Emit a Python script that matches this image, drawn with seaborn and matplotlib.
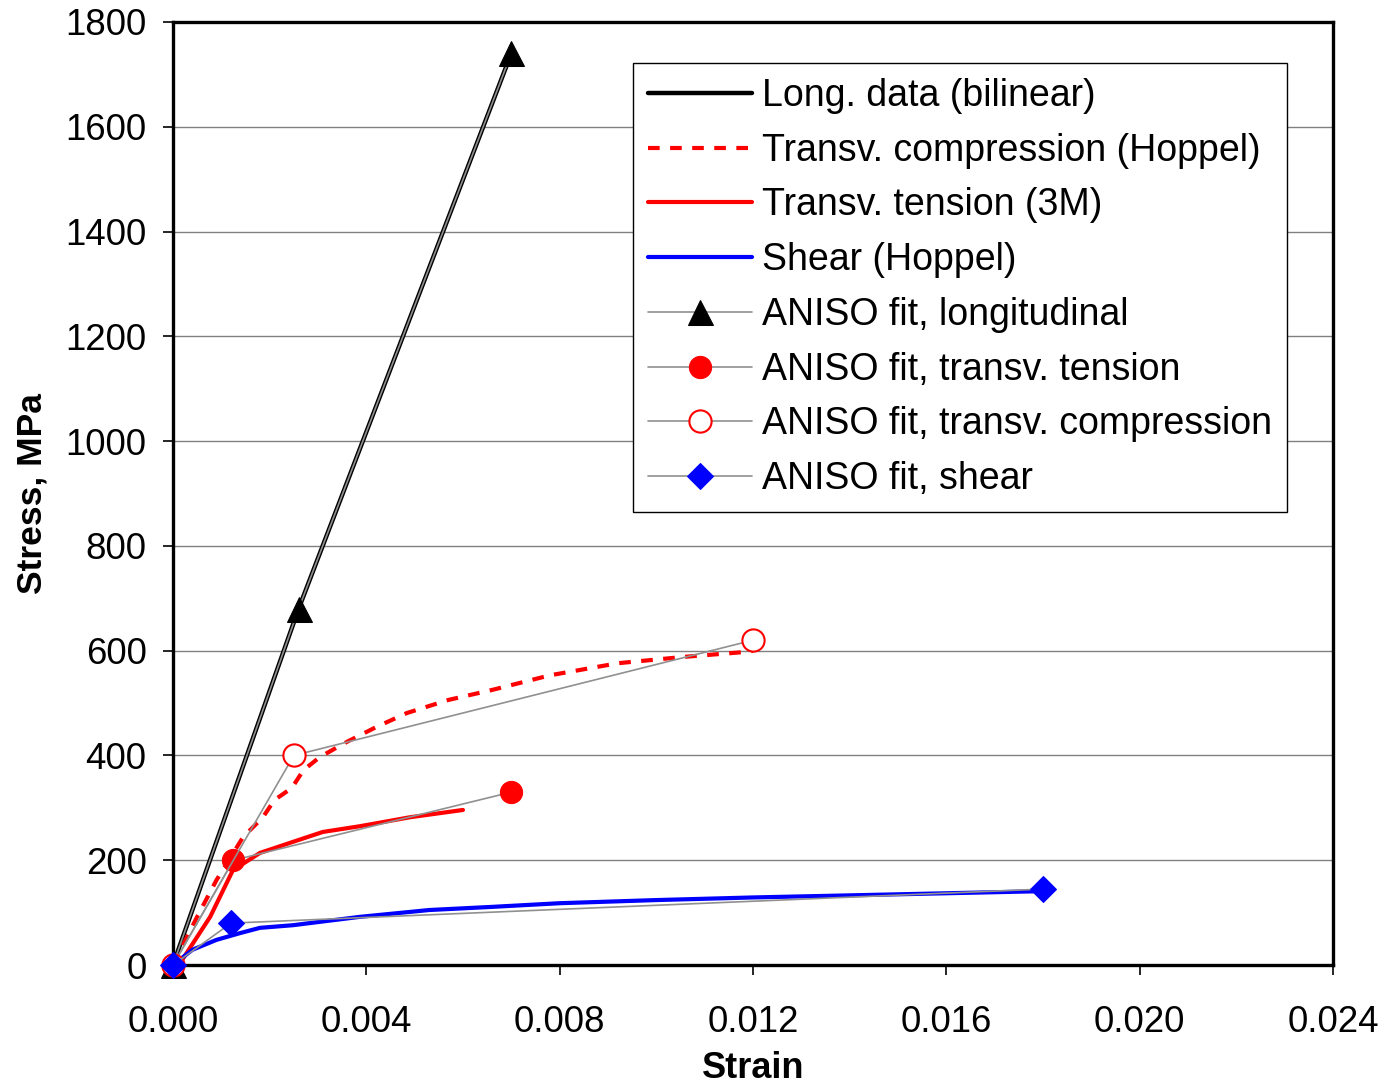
import seaborn as sns
import matplotlib.pyplot as plt
import pandas as pd

# Measured curves (strain, stress in MPa)
long_strain = [0.0, 0.0026, 0.0070]
long_stress = [0, 680, 1740]

comp_strain = [0.0, 0.0005, 0.0009, 0.00145, 0.00186, 0.0021, 0.00246, 0.0027, 0.00304,
               0.0036, 0.0042, 0.00484, 0.0057, 0.0066, 0.0078, 0.0092, 0.01055, 0.0119, 0.0120]
comp_stress = [0, 92, 162, 244, 282, 315, 338, 372, 397,
               426, 454, 481, 506, 525, 553, 576, 588, 598, 600]

tens_strain = [0.0, 0.00015, 0.00077, 0.00124, 0.0018, 0.00248, 0.0031, 0.00387, 0.0049, 0.0060]
tens_stress = [0, 4, 92, 181, 214, 235, 254, 265, 282, 296]

shear_strain = [0.0, 0.0004, 0.0009, 0.00139, 0.0018, 0.00248, 0.00387, 0.0053, 0.0066, 0.0080,
                0.0100, 0.0120, 0.0140, 0.0160, 0.0180]
shear_stress = [0, 29, 48, 61, 71, 76, 92, 105, 111, 118,
                124, 129, 133, 137, 141]

# ANISO fit points
fit_long_strain = [0.0, 0.0026, 0.0070]
fit_long_stress = [0, 680, 1740]
fit_tens_strain = [0.0, 0.00125, 0.0070]
fit_tens_stress = [0, 200, 330]
fit_comp_strain = [0.0, 0.0025, 0.0120]
fit_comp_stress = [0, 400, 620]
fit_shear_strain = [0.0, 0.0012, 0.0180]
fit_shear_stress = [0, 80, 145]

x_ticks = [0.0, 0.004, 0.008, 0.012, 0.016, 0.020, 0.024]
y_ticks = [0, 200, 400, 600, 800, 1000, 1200, 1400, 1600, 1800]

sns.set_style("white")
plt.rcParams['font.family'] = ['Liberation Sans', 'DejaVu Sans']
plt.rcParams['text.color'] = 'black'
plt.rcParams['axes.labelcolor'] = 'black'
plt.rcParams['xtick.color'] = 'black'
plt.rcParams['ytick.color'] = 'black'

fig = plt.figure(figsize=(13.88, 10.87), dpi=100)
ax = fig.add_axes([0.1246, 0.1122, 0.8358, 0.8676])


def draw(xs, ys, label, **kw):
    df = pd.DataFrame({"strain": xs, "stress": ys})
    sns.lineplot(data=df, x="strain", y="stress", sort=False, estimator=None,
                 label=label, ax=ax, **kw)


draw(long_strain, long_stress, "Long. data (bilinear)", color="black", linewidth=3.2, zorder=3)
draw(comp_strain, comp_stress, "Transv. compression (Hoppel)", color="red", linewidth=3,
     linestyle=(0, (2.8, 2.5)), zorder=3)
draw(tens_strain, tens_stress, "Transv. tension (3M)", color="red", linewidth=3, zorder=3)
draw(shear_strain, shear_stress, "Shear (Hoppel)", color="blue", linewidth=3, zorder=3)

fit_kw = dict(color="#909090", linewidth=1.2, zorder=4, clip_on=False)
draw(fit_long_strain, fit_long_stress, "ANISO fit, longitudinal", marker="^", markersize=18,
     markerfacecolor="black", markeredgecolor="black", **fit_kw)
draw(fit_tens_strain, fit_tens_stress, "ANISO fit, transv. tension", marker="o", markersize=16,
     markerfacecolor="red", markeredgecolor="red", **fit_kw)
draw(fit_comp_strain, fit_comp_stress, "ANISO fit, transv. compression", marker="o", markersize=16,
     markerfacecolor="white", markeredgecolor="red", markeredgewidth=1.5, **fit_kw)
draw(fit_shear_strain, fit_shear_stress, "ANISO fit, shear", marker="D", markersize=13,
     markerfacecolor="blue", markeredgecolor="blue", **fit_kw)

ax.set_xlim(0, 0.024)
ax.set_ylim(0, 1800)
ax.set_xticks(x_ticks)
ax.set_xticklabels([f"{v:.3f}" for v in x_ticks])
ax.set_yticks(y_ticks)
ax.yaxis.grid(True, color="#808080", linewidth=1)
ax.xaxis.grid(False)
ax.set_axisbelow(True)
for s in ax.spines.values():
    s.set_visible(True)
    s.set_color("black")
    s.set_linewidth(2.4)
ax.tick_params(axis="both", direction="out", length=7, width=1.2, color="black",
               labelsize=26.4, labelcolor="black", left=True, bottom=True)
ax.tick_params(axis="y", pad=12)
ax.tick_params(axis="x", pad=22)

ax.set_xlabel("Strain", fontsize=26, fontweight="bold", labelpad=8)
ax.set_ylabel("Stress, MPa", fontsize=25.5, fontweight="bold", labelpad=12)

leg = ax.legend(loc="upper right", bbox_to_anchor=(0.960, 0.9565), borderaxespad=0,
                fontsize=27, frameon=True, fancybox=False, framealpha=1,
                edgecolor="black", handlelength=2.75, handletextpad=0.27,
                borderpad=0.4, labelspacing=0.5)
leg.get_frame().set_linewidth(1)

fig.savefig("out.png", dpi=100)
